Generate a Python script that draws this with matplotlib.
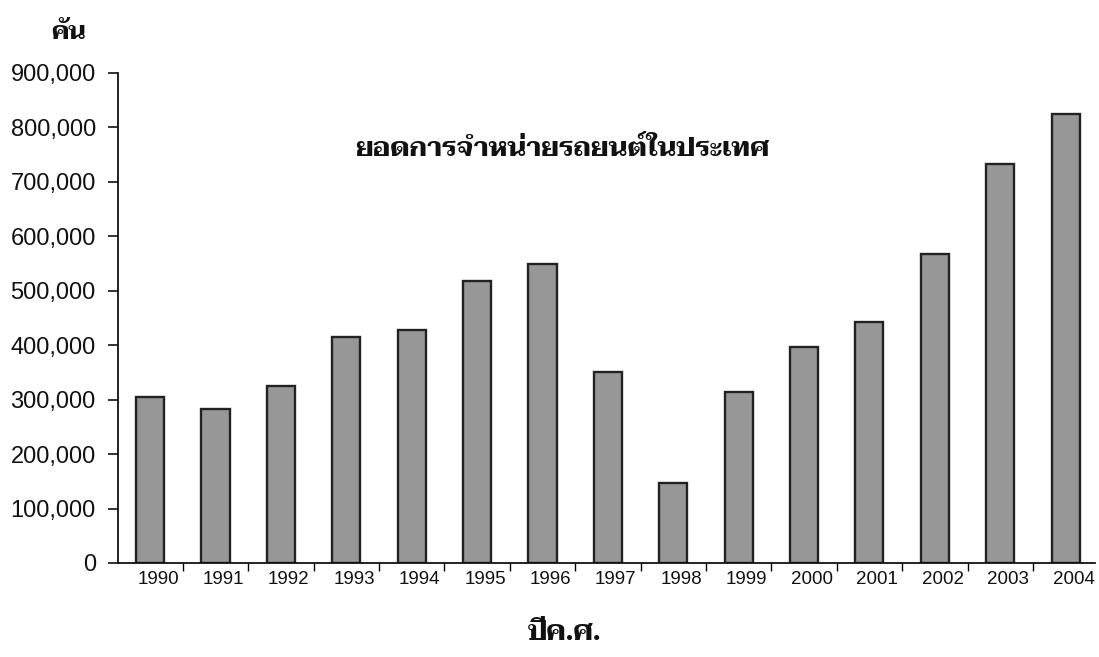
import matplotlib
matplotlib.use("Agg")
import matplotlib.pyplot as plt
import matplotlib.transforms as mtransforms
from matplotlib.ticker import FuncFormatter, FixedLocator
import numpy as np

years = ["1990", "1991", "1992", "1993", "1994", "1995", "1996", "1997",
         "1998", "1999", "2000", "2001", "2002", "2003", "2004"]
sales = [305000, 283000, 325000, 415000, 428000, 518000, 550000, 351000,
         147000, 314000, 397000, 443000, 568000, 732000, 824000]
y_ticks = [0, 100000, 200000, 300000, 400000, 500000, 600000, 700000, 800000, 900000]

title_text = "ยอดการจำหน่ายรถยนต์ในประเทศ"
y_unit = "คัน"
x_title = "ปีค.ศ."

thai_fonts = ["Taviraj", "Trirong", "Noto Serif Thai", "DejaVu Sans"]
plt.rcParams["font.family"] = ["Liberation Sans", "DejaVu Sans"]

fig = plt.figure(figsize=(10.99, 6.57), dpi=100)
ax = fig.add_axes([0.1074, 0.1431, 0.889, 0.7458])

x = np.arange(len(years))
ax.bar(x, sales, width=0.43, color="#979797", edgecolor="#222222", linewidth=1.7, zorder=2)

ax.set_xlim(-0.49, len(years) - 0.55)
ax.set_ylim(0, 900000)

ax.yaxis.set_major_locator(FixedLocator(y_ticks))
ax.yaxis.set_major_formatter(FuncFormatter(lambda v, p: f"{int(v):,}"))
ax.tick_params(axis="y", direction="out", length=7, width=1.2, pad=9,
               labelsize=17, colors="#111111")

ax.set_xticks(x)
ax.set_xticklabels(years)
ax.tick_params(axis="x", which="major", length=0, pad=6, labelsize=13.5, colors="#111111")
ax.set_xticks(x[:-1] + 0.5, minor=True)
ax.tick_params(axis="x", which="minor", direction="out", length=6, width=1.0)
shift = mtransforms.ScaledTranslation(8 / 100, 0, fig.dpi_scale_trans)
for lbl in ax.get_xticklabels():
    lbl.set_transform(lbl.get_transform() + shift)

for side in ("top", "right"):
    ax.spines[side].set_visible(False)
for side in ("left", "bottom"):
    ax.spines[side].set_linewidth(1.3)
    ax.spines[side].set_color("#111111")

fig.text(0.512, 0.772, title_text, ha="center", va="center", fontsize=19.5,
         fontweight="bold", family=thai_fonts, color="#111111")
fig.text(0.062, 0.950, y_unit, ha="center", va="center", fontsize=18,
         fontweight="bold", family=thai_fonts, color="#111111")
fig.text(0.514, 0.036, x_title, ha="center", va="center", fontsize=20,
         fontweight="bold", family=thai_fonts, color="#111111")

fig.savefig("out.png", dpi=100, facecolor="white")
